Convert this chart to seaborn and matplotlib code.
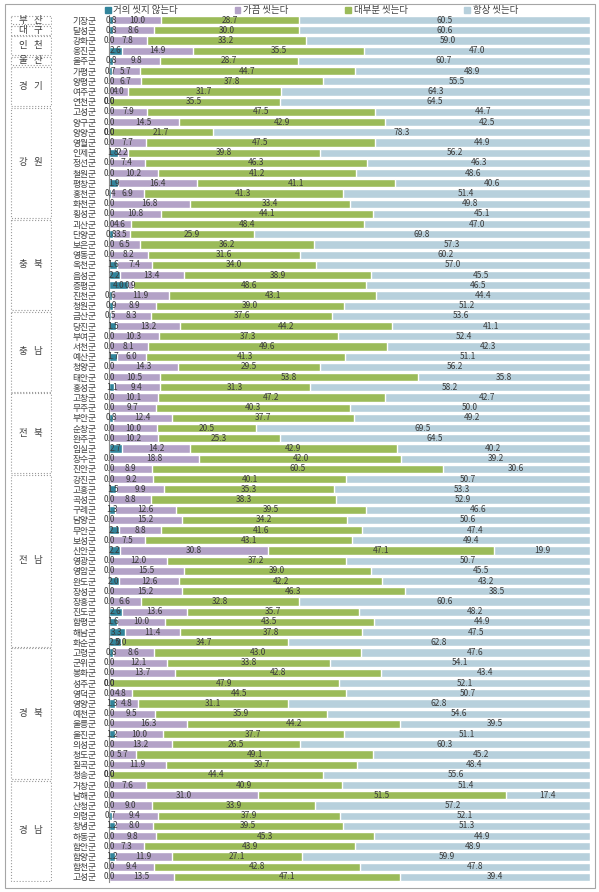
# 군 지역별 손씻기 실천 정도 (100% 누적 가로 막대)
import pandas as pd
import matplotlib
matplotlib.use('Agg')
import matplotlib.pyplot as plt
from matplotlib.patches import Rectangle
import seaborn as sns

# data
provinces = ['부 산', '대 구', '인 천', '울 산', '경 기', '강 원',
             '충 북', '충 남', '전 북', '전 남', '경 북', '경 남']
province_sizes = [1, 1, 2, 1, 4, 11, 9, 8, 8, 17, 13, 10]

counties = ['기장군', '달성군', '강화군', '옹진군', '울주군',
            '가평군', '양평군', '여주군', '연천군',
            '고성군', '양구군', '양양군', '영월군', '인제군', '정선군', '철원군',
            '평창군', '홍천군', '화천군', '횡성군',
            '괴산군', '단양군', '보은군', '영동군', '옥천군', '음성군', '증평군',
            '진천군', '청원군',
            '금산군', '당진군', '부여군', '서천군', '예산군', '청양군', '태안군', '홍성군',
            '고창군', '무주군', '부안군', '순창군', '완주군', '임실군', '장수군', '진안군',
            '강진군', '고흥군', '곡성군', '구례군', '담양군', '무안군', '보성군', '신안군',
            '영광군', '영암군', '완도군', '장성군', '장흥군', '진도군', '함평군', '해남군',
            '화순군',
            '고령군', '군위군', '봉화군', '성주군', '영덕군', '영양군', '예천군', '울릉군',
            '울진군', '의성군', '청도군', '칠곡군', '청송군',
            '거창군', '남해군', '산청군', '의령군', '창녕군', '하동군', '함안군', '함양군',
            '합천군', '고성군']

never = [0.8, 0.8, 0.0, 2.6, 0.8,
         0.7, 0.0, 0.0, 0.0,
         0.0, 0.0, 0.0, 0.0, 1.8, 0.0, 0.0, 1.9, 0.4, 0.0, 0.0,
         0.0, 0.8, 0.0, 0.0, 1.6, 2.2, 4.0, 0.6, 0.9,
         0.5, 1.5, 0.0, 0.0, 1.7, 0.0, 0.0, 1.1,
         0.0, 0.0, 0.8, 0.0, 0.0, 2.7, 0.0, 0.0,
         0.0, 1.5, 0.0, 1.3, 0.0, 2.1, 0.0, 2.2, 0.0, 0.0, 2.0, 0.0, 0.0, 2.6, 1.6, 3.3,
         2.5,
         0.8, 0.0, 0.0, 0.0, 0.0, 1.3, 0.0, 0.0, 1.2, 0.0, 0.0, 0.0, 0.0,
         0.0, 0.0, 0.0, 0.7, 1.2, 0.0, 0.0, 1.2, 0.0, 0.0]
sometimes = [10.0, 8.6, 7.8, 14.9, 9.8,
             5.7, 6.7, 4.0, 0.0,
             7.9, 14.5, 0.0, 7.7, 2.2, 7.4, 10.2, 16.4, 6.9, 16.8, 10.8,
             4.6, 3.5, 6.5, 8.2, 7.4, 13.4, 0.9, 11.9, 8.9,
             8.3, 13.2, 10.3, 8.1, 6.0, 14.3, 10.5, 9.4,
             10.1, 9.7, 12.4, 10.0, 10.2, 14.2, 18.8, 8.9,
             9.2, 9.9, 8.8, 12.6, 15.2, 8.8, 7.5, 30.8, 12.0, 15.5, 12.6, 15.2, 6.6, 13.6,
             10.0, 11.4, 0.0,
             8.6, 12.1, 13.7, 0.0, 4.8, 4.8, 9.5, 16.3, 10.0, 13.2, 5.7, 11.9, 0.0,
             7.6, 31.0, 9.0, 9.4, 8.0, 9.8, 7.3, 11.9, 9.4, 13.5]
mostly = [28.7, 30.0, 33.2, 35.5, 28.7,
          44.7, 37.8, 31.7, 35.5,
          47.5, 42.9, 21.7, 47.5, 39.8, 46.3, 41.2, 41.1, 41.3, 33.4, 44.1,
          48.4, 25.9, 36.2, 31.6, 34.0, 38.9, 48.6, 43.1, 39.0,
          37.6, 44.2, 37.3, 49.6, 41.3, 29.5, 53.8, 31.3,
          47.2, 40.3, 37.7, 20.5, 25.3, 42.9, 42.0, 60.5,
          40.1, 35.3, 38.3, 39.5, 34.2, 41.6, 43.1, 47.1, 37.2, 39.0, 42.2, 46.3, 32.8, 35.7,
          43.5, 37.8, 34.7,
          43.0, 33.8, 42.8, 47.9, 44.5, 31.1, 35.9, 44.2, 37.7, 26.5, 49.1, 39.7, 44.4,
          40.9, 51.5, 33.9, 37.9, 39.5, 45.3, 43.9, 27.1, 42.8, 47.1]
always = [60.5, 60.6, 59.0, 47.0, 60.7,
          48.9, 55.5, 64.3, 64.5,
          44.7, 42.5, 78.3, 44.9, 56.2, 46.3, 48.6, 40.6, 51.4, 49.8, 45.1,
          47.0, 69.8, 57.3, 60.2, 57.0, 45.5, 46.5, 44.4, 51.2,
          53.6, 41.1, 52.4, 42.3, 51.1, 56.2, 35.8, 58.2,
          42.7, 50.0, 49.2, 69.5, 64.5, 40.2, 39.2, 30.6,
          50.7, 53.3, 52.9, 46.6, 50.6, 47.4, 49.4, 19.9, 50.7, 45.5, 43.2, 38.5, 60.6, 48.2,
          44.9, 47.5, 62.8,
          47.6, 54.1, 43.4, 52.1, 50.7, 62.8, 54.6, 39.5, 51.1, 60.3, 45.2, 48.4, 55.6,
          51.4, 17.4, 57.2, 52.1, 51.3, 44.9, 48.9, 59.9, 47.8, 39.4]

series_names = ['거의 씻지 않는다', '가끔 씻는다', '대부분 씻는다', '항상 씻는다']
colors = ['#31849b', '#b3a2c7', '#9bbb59', '#b7d0dc']

sns.set_theme(style='white')
plt.rcParams['font.family'] = ['Noto Sans CJK KR', 'DejaVu Sans']

# unique row keys (고성군 appears twice)
df = pd.DataFrame({
    'key': [f'{i:02d}' for i in range(len(counties))],
    'county': counties,
    'never': never, 'sometimes': sometimes, 'mostly': mostly, 'always': always,
})
df['c1'] = df['never']
df['c2'] = df['c1'] + df['sometimes']
df['c3'] = df['c2'] + df['mostly']
df['c4'] = df['c3'] + df['always']

fig = plt.figure(figsize=(5.99, 8.92), dpi=100)
n = len(df)
ax_bottom = 1 - 882 / 892
ax_top = 1 - 15 / 892
ax = fig.add_axes([109 / 599, ax_bottom, 481 / 599, ax_top - ax_bottom])

# stacked bars: draw cumulative totals from the back to the front
for col, c in zip(['c4', 'c3', 'c2', 'c1'], colors[::-1]):
    sns.barplot(data=df, x=col, y='key', color=c, orient='h', width=0.8,
                saturation=1, ax=ax, errorbar=None)

ax.set_xlim(0, 100)
ax.set_ylim(n - 0.5, -0.5)
ax.set_xlabel('')
ax.set_ylabel('')
ax.set_xticks([])
ax.set_yticks(range(n))
ax.set_yticklabels(df['county'], fontsize=6.3, color='#404040')
ax.tick_params(axis='y', length=0, pad=9)
for s in ['top', 'right', 'bottom']:
    ax.spines[s].set_visible(False)
ax.spines['left'].set_color('#8c8c8c')
ax.spines['left'].set_linewidth(0.8)

# segment value labels
for i, row in df.iterrows():
    left = 0
    for col in ['never', 'sometimes', 'mostly', 'always']:
        v = row[col]
        ax.text(left + v / 2, i, f'{v:.1f}', ha='center', va='center',
                fontsize=6, color='#3a3a3a')
        left += v

# province boxes on the left
lax = fig.add_axes([10 / 599, ax_bottom, 42 / 599, ax_top - ax_bottom])
lax.set_xlim(0, 1)
lax.set_ylim(n - 0.5, -0.5)
lax.axis('off')
start = 0
for name, size in zip(provinces, province_sizes):
    lax.add_patch(Rectangle((0.02, start - 0.42), 0.96, size - 0.16, fill=False,
                            edgecolor='#9a9a9a', linestyle=':', linewidth=0.8))
    lax.text(0.5, start + (size - 1) / 2, name.replace(' ', '   '), ha='center',
             va='center', fontsize=6.8, color='#404040')
    start += size

# legend
handles = [Rectangle((0, 0), 1, 1, color=c) for c in colors]
fig.legend(handles, series_names, loc='upper center', bbox_to_anchor=(0.52, 1.003),
           ncol=4, frameon=False, fontsize=6.8, handlelength=0.6, handleheight=0.6,
           handletextpad=0.3, columnspacing=6.0, labelcolor='#404040')

# outer frame
fig.patches.append(Rectangle((5 / 599, 4 / 892), 590 / 599, 884 / 892,
                             transform=fig.transFigure, fill=False,
                             edgecolor='#a6a6a6', linewidth=0.8))

fig.savefig('out.png', dpi=100)
